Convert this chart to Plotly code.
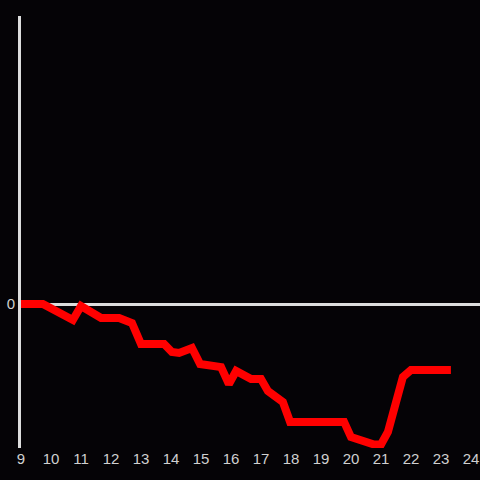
import plotly.graph_objects as go

x_vals = [9, 9.73, 10.73, 11.0, 11.67, 12.27, 12.7, 13.0, 13.77, 14.03, 14.27, 14.7, 14.97,
          15.67, 15.93, 16.17, 16.67, 17.0, 17.23, 17.73, 17.97, 19.77, 20.0, 20.77, 21.0,
          21.23, 21.73, 22.0, 23.33]
y_vals = [0, 0, -1.11, -0.14, -0.97, -0.97, -1.32, -2.78, -2.78, -3.33, -3.40, -3.06, -4.17,
          -4.38, -5.56, -4.65, -5.21, -5.21, -6.04, -6.81, -8.19, -8.19, -9.24, -9.76, -9.76,
          -8.89, -5.07, -4.58, -4.58]
x_ticks = list(range(9, 25))
y_ticks = [0]

bg = "#050306"
axis_col = "#dddddd"

fig = go.Figure(go.Scatter(x=x_vals, y=y_vals, mode="lines",
                           line=dict(color="#ff0000", width=8), hoverinfo="skip"))
fig.update_layout(
    width=480, height=480,
    paper_bgcolor=bg, plot_bgcolor=bg,
    margin=dict(l=21, r=0, t=16, b=32),
    showlegend=False,
    font=dict(family="Liberation Sans, Arial, sans-serif", size=15, color=axis_col),
)
fig.update_xaxes(range=[9, 24.3], tickvals=x_ticks, ticktext=[str(t) for t in x_ticks],
                 showgrid=False, zeroline=False, showline=False, ticks="", automargin=False,
                 tickfont=dict(color="#d0d0d0", size=15))
fig.update_yaxes(range=[-10, 20], tickvals=y_ticks, ticktext=["0"],
                 showgrid=False, zeroline=True, zerolinecolor=axis_col, zerolinewidth=3,
                 showline=True, linecolor=axis_col, linewidth=3, ticks="", automargin=False,
                 tickfont=dict(color="#d0d0d0", size=15))
fig.write_html("out.html", config={"displayModeBar": False},
               post_script="document.body.style.margin='0';document.body.style.overflow='hidden';")
